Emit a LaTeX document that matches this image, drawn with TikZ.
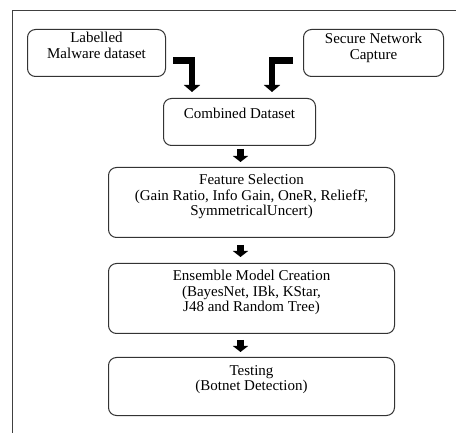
\documentclass[tikz,border=0pt]{standalone}
\usepackage{fontspec}
\setmainfont{Liberation Serif}
\usetikzlibrary{arrows.meta}
\begin{document}
\begin{tikzpicture}[x=1pt,y=-1pt,
  frame/.style={draw=black!75, line width=1pt},
  box/.style={draw=black!80, line width=1pt, rounded corners=8pt, inner sep=0pt, anchor=north west},
  txt/.style={anchor=north, inner sep=0pt, align=center, text=black, font=\fontsize{15}{15.5}\selectfont},
  bigarrow/.style={line width=6.5pt, -{Triangle[width=16pt,length=7pt]}},
  smallarrow/.style={line width=7pt, -{Triangle[width=15pt,length=6pt]}}]
\useasboundingbox (0,0) rectangle (456,433);
\fill[white] (0,0) rectangle (456,433);
% outer frame (top and left)
\coordinate (f1) at (456,11);
\coordinate (f2) at (12.5,11);
\coordinate (f3) at (12.5,433);
\draw[frame] (f1) -- (f2) -- (f3);
% boxes
\node[box, minimum width=138pt, minimum height=47pt] (lab) at (27,29) {};
\node[box, minimum width=140pt, minimum height=47pt] (sec) at (303,29) {};
\node[box, minimum width=152pt, minimum height=47pt] (comb) at (163,98) {};
\node[box, minimum width=286pt, minimum height=70pt] (feat) at (108,167) {};
\node[box, minimum width=286pt, minimum height=70pt] (ens) at (108,263) {};
\node[box, minimum width=286pt, minimum height=58pt] (test) at (108,357) {};
% texts
\node[txt] (labt) at (lab.north |- 0,32) {Labelled\\Malware dataset};
\node[txt] (sect) at (sec.north |- 0,33) {Secure Network\\Capture};
\node[txt] (combt) at (comb.north |- 0,108) {Combined Dataset};
\node[txt] (featt) at (feat.north |- 0,174) {Feature Selection\\(Gain Ratio, Info Gain, OneR, ReliefF,\\SymmetricalUncert)};
\node[txt] (enst) at (ens.north |- 0,270) {Ensemble Model Creation\\(BayesNet, IBk, KStar,\\J48 and Random Tree)};
\node[txt] (testt) at (test.north |- 0,365) {Testing\\(Botnet Detection)};
% L-shaped arrows
\draw[bigarrow] ([xshift=7pt,yshift=-7.5pt]lab.east) -| ([xshift=-47.5pt,yshift=6pt]comb.north);
\draw[bigarrow] ([xshift=-10pt,yshift=-7.5pt]sec.west) -| ([xshift=32.5pt,yshift=6pt]comb.north);
% straight arrows
\draw[smallarrow] ([xshift=1pt,yshift=-3pt]comb.south) -- ([xshift=1pt]comb.south |- 0,162);
\draw[smallarrow] ([xshift=1pt]comb.south |- feat.south) ++(0,7) -- ([xshift=1pt]comb.south |- 0,257);
\draw[smallarrow] ([xshift=1pt]comb.south |- ens.south) ++(0,6) -- ([xshift=1pt]comb.south |- 0,352);
\end{tikzpicture}
\end{document}
